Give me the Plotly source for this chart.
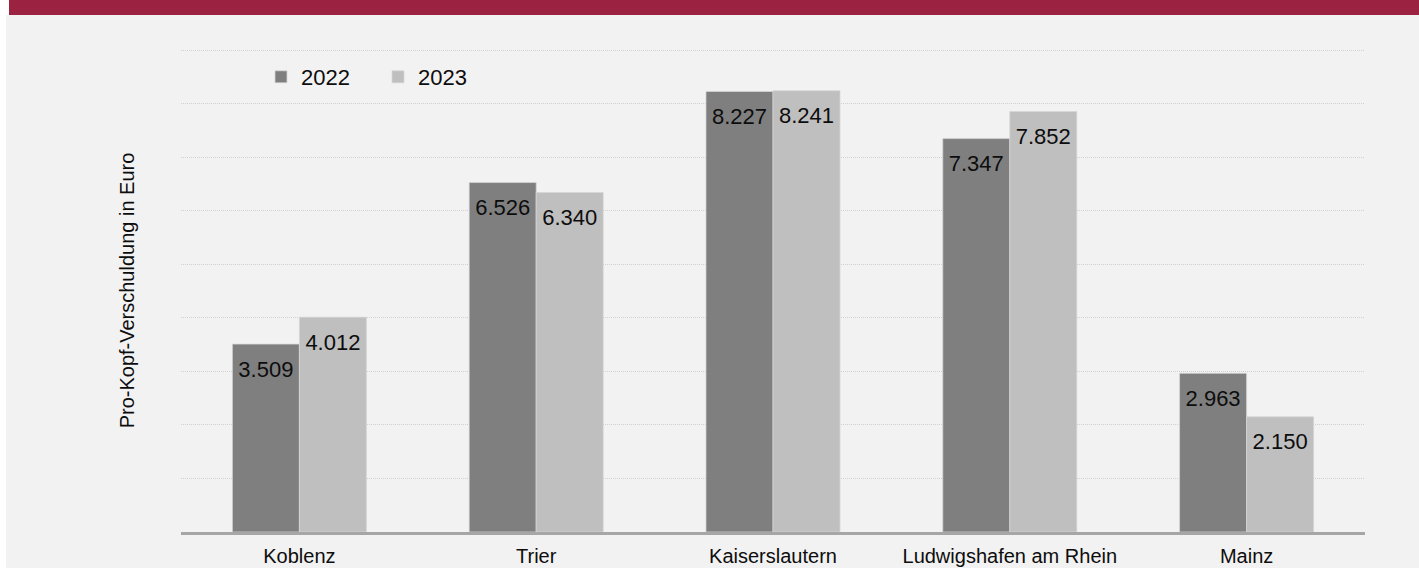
import plotly.graph_objects as go

categories = ["Koblenz", "Trier", "Kaiserslautern", "Ludwigshafen am Rhein", "Mainz"]
years = ["2022", "2023"]
values_2022 = [3509, 6526, 8227, 7347, 2963]
values_2023 = [4012, 6340, 8241, 7852, 2150]
y_ticks = [0, 1000, 2000, 3000, 4000, 5000, 6000, 7000, 8000, 9000]

def fmt(v):
    return f"{v:,}".replace(",", ".")

FONT = "Arial, Liberation Sans, sans-serif"
TXT = "#0D0D0D"
colors = {"2022": "#7F7F7F", "2023": "#BFBFBF"}
series = {"2022": values_2022, "2023": values_2023}

W, H = 1419, 568
ML, MR, MT, MB = 181, 54, 49, 36
PW, PH = W - ML - MR, H - MT - MB

def px_x(p):
    return (p - ML) / PW

def px_y(p):
    return (H - MB - p) / PH

fig = go.Figure()
for yr in years:
    fig.add_trace(go.Bar(
        x=categories, y=series[yr], name=yr,
        marker=dict(color=colors[yr], line=dict(color="#D6D6D6", width=0.75)),
        offsetgroup=yr, hoverinfo="skip",
    ))
for yr in years:
    fig.add_trace(go.Scatter(
        x=categories, y=series[yr], mode="markers+text",
        text=[fmt(v) for v in series[yr]], textposition="bottom center",
        textfont=dict(family=FONT, size=22, color=TXT),
        marker=dict(size=24, opacity=0), offsetgroup=yr,
        showlegend=False, hoverinfo="skip", cliponaxis=False,
    ))

shapes = [
    dict(type="rect", xref="paper", yref="paper", x0=px_x(0), x1=px_x(6), y0=px_y(H), y1=px_y(0),
         fillcolor="white", line=dict(width=0), layer="below"),
    dict(type="rect", xref="paper", yref="paper", x0=px_x(0), x1=px_x(9), y0=px_y(15), y1=px_y(0),
         fillcolor="white", line=dict(width=0), layer="below"),
    dict(type="rect", xref="paper", yref="paper", x0=px_x(9), x1=px_x(W), y0=px_y(15), y1=px_y(0),
         fillcolor="#9B2240", line=dict(width=0), layer="below"),
]

fig.update_layout(
    width=W, height=H,
    margin=dict(l=ML, r=MR, t=MT, b=MB, autoexpand=False),
    paper_bgcolor="#F2F2F2", plot_bgcolor="#F2F2F2",
    barmode="group", bargap=0.434, bargroupgap=0,
    scattermode="group", scattergap=0.434,
    font=dict(family=FONT, color=TXT, size=20),
    showlegend=True,
    legend=dict(orientation="h", x=px_x(261), y=px_y(77), xanchor="left", yanchor="middle",
                font=dict(size=22, color=TXT), bgcolor="rgba(0,0,0,0)",
                entrywidth=72, traceorder="normal"),
    shapes=shapes,
    xaxis=dict(showline=True, linecolor="#A6A6A6", linewidth=3, ticks="outside", ticklen=4,
               tickcolor="rgba(0,0,0,0)", tickfont=dict(size=20, color=TXT),
               showgrid=False, fixedrange=True),
    yaxis=dict(range=[0, 9020], tickvals=y_ticks, showticklabels=False, showgrid=True,
               gridcolor="#D0D0D0", griddash="1px,1px", gridwidth=1, zeroline=False,
               title=dict(text="Pro-Kopf-Verschuldung in Euro", font=dict(size=20, color=TXT),
                          standoff=40),
               fixedrange=True),
)

fig.write_html("out.html", config={"displayModeBar": False},
               post_script="document.body.style.margin='0';")
